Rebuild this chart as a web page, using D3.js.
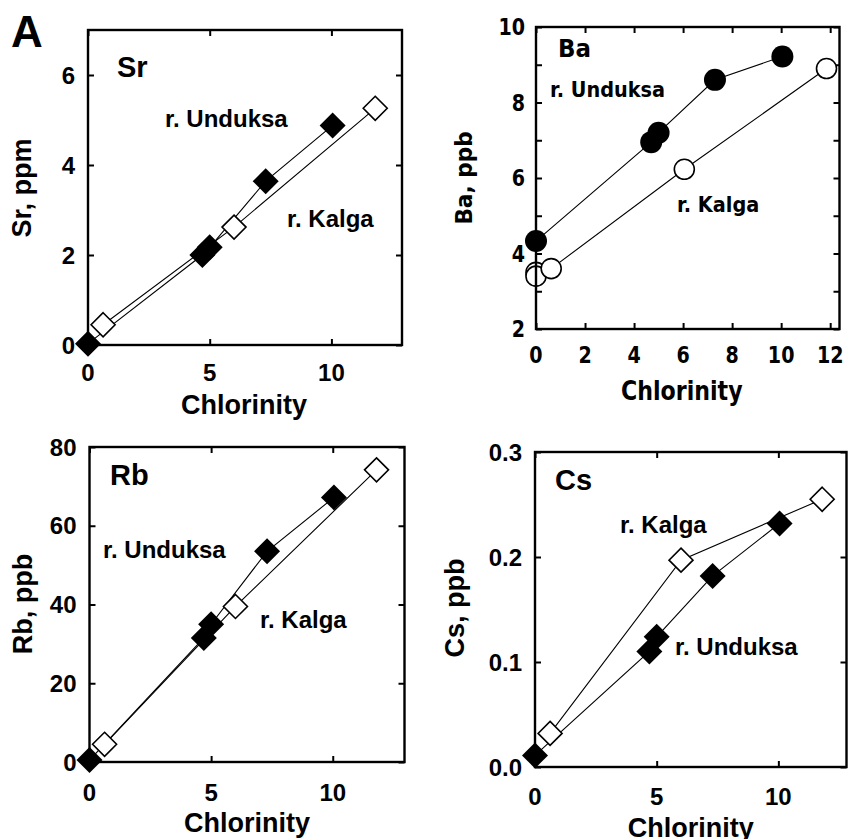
<!DOCTYPE html>
<html>
<head>
<meta charset="utf-8">
<script src="https://cdn.jsdelivr.net/npm/d3@7"></script>
<style>
  html, body { margin: 0; padding: 0; background: #fff; }
  svg { display: block; }
</style>
</head>
<body>
<svg id="chart" width="850" height="839"></svg>
<script>
// Chlorinity of the sampled waters (shared by the element panels)
const chlorUnduksa = [0, 4.7, 5.0, 7.3, 10.05];
const chlorKalga = [0.62, 6.0, 11.8];
const chlorKalgaBa = [0, 0, 0.62, 6.05, 11.85];

// Element concentrations
const srUnduksa = [0.03, 2.0, 2.17, 3.64, 4.88];
const srKalga = [0.45, 2.62, 5.26];
const baUnduksa = [4.33, 6.95, 7.2, 8.6, 9.22];
const baKalga = [3.5, 3.4, 3.6, 6.23, 8.9];
const rbUnduksa = [0.5, 31.5, 35.0, 53.5, 67.2];
const rbKalga = [4.5, 39.5, 74.2];
const csUnduksa = [0.011, 0.11, 0.124, 0.182, 0.232];
const csKalga = [0.032, 0.197, 0.255];

// Tick values
const srYTicks = [0, 2, 4, 6];
const baYTicks = [2, 4, 6, 8, 10];
const baYMinor = [3, 5, 7, 9];
const rbYTicks = [0, 20, 40, 60, 80];
const csYTicks = [0.0, 0.1, 0.2, 0.3];
const xTicks = [0, 5, 10];
const baXTicks = [0, 2, 4, 6, 8, 10, 12];

const svg = d3.select("#chart");
const ARIAL = "'Liberation Sans', Arial, Helvetica, sans-serif";
const VERDANA = "'DejaVu Sans', Verdana, sans-serif";

const diamond = h => `M0,${-h}L${h},0L0,${h}L${-h},0Z`;

// bold text anchored at (x, y), optionally narrowed horizontally and rotated
function label(parent, o) {
  const rot = o.rotate ? ` rotate(${o.rotate})` : "";
  return parent.append("text")
    .attr("transform", `translate(${o.x},${o.y})${rot} scale(${o.sx || 1},1)`)
    .attr("text-anchor", o.anchor || "start")
    .attr("dy", o.dy || null)
    .attr("font-family", o.font).attr("font-weight", "bold")
    .attr("font-size", o.size)
    .text(o.text);
}

function panel(cfg) {
  const g = svg.append("g");
  const x = d3.scaleLinear().domain(cfg.xDomain).range([cfg.left, cfg.right]);
  const y = d3.scaleLinear().domain(cfg.yDomain).range([cfg.bottom, cfg.top]);
  const tickLen = 6;
  const f = cfg.font;

  // inward ticks on all four sides
  const yAll = cfg.yTicks.concat(cfg.yMinor || []);
  const xAll = cfg.xTicks;
  g.append("g").call(d3.axisRight(y).tickValues(yAll).tickSize(tickLen).tickFormat(""))
    .attr("transform", `translate(${cfg.left},0)`);
  g.append("g").call(d3.axisLeft(y).tickValues(yAll).tickSize(tickLen).tickFormat(""))
    .attr("transform", `translate(${cfg.right},0)`);
  g.append("g").call(d3.axisTop(x).tickValues(xAll).tickSize(tickLen).tickFormat(""))
    .attr("transform", `translate(0,${cfg.bottom})`);
  g.append("g").call(d3.axisBottom(x).tickValues(xAll).tickSize(tickLen).tickFormat(""))
    .attr("transform", `translate(0,${cfg.top})`);
  g.selectAll(".domain").remove();
  g.selectAll(".tick line").attr("stroke", "#000").attr("stroke-width", 2);

  // tick labels
  cfg.yTicks.forEach(d => label(g, {
    x: cfg.left - cfg.yLabelGap, y: y(d), dy: "0.36em", anchor: "end",
    font: f, size: cfg.tickSize, sx: cfg.tickSx, text: cfg.yFormat(d)
  }));
  cfg.xTicks.forEach(d => label(g, {
    x: x(d), y: cfg.xLabelY, dy: "0.36em", anchor: "middle",
    font: f, size: cfg.tickSize, sx: cfg.tickSx, text: String(d)
  }));

  // axis titles
  label(g, {
    x: (cfg.left + cfg.right) / 2 + (cfg.xTitleDx || 0), y: cfg.xTitleY, anchor: "middle",
    font: f, size: cfg.titleSize, sx: cfg.titleSx, text: "Chlorinity"
  });
  label(g, {
    x: cfg.yTitleX, y: cfg.yTitleY, rotate: -90, anchor: "middle",
    font: f, size: cfg.yTitleSize || cfg.titleSize, sx: cfg.yTitleSx, text: cfg.yTitle
  });

  // series lines
  const line = d3.line().x(d => x(d[0])).y(d => y(d[1]));
  cfg.series.forEach(s => {
    const pts = s.x.map((v, i) => [v, s.y[i]]);
    g.append("path").attr("d", line(pts))
      .attr("fill", "none").attr("stroke", "#000").attr("stroke-width", 1.1);
  });
  // markers
  cfg.series.forEach(s => {
    const pts = s.x.map((v, i) => [v, s.y[i]]);
    const m = g.append("g").selectAll("path").data(pts).join("path")
      .attr("transform", d => `translate(${x(d[0])},${y(d[1])})`);
    if (s.shape === "diamond") {
      m.attr("d", s.filled ? diamond(13) : diamond(12));
    } else {
      m.attr("d", d3.arc()({innerRadius: 0, outerRadius: s.filled ? 11 : 10, startAngle: 0, endAngle: 2 * Math.PI}));
    }
    m.attr("fill", s.filled ? "#000" : "#fff")
      .attr("stroke", "#000").attr("stroke-width", s.filled ? 0 : 1.6);
  });

  // frame
  g.append("rect")
    .attr("x", cfg.left).attr("y", cfg.top)
    .attr("width", cfg.right - cfg.left).attr("height", cfg.bottom - cfg.top)
    .attr("fill", "none").attr("stroke", "#000").attr("stroke-width", 2.4);

  // element name and river labels
  cfg.labels.forEach(l => label(g, {
    x: l.x, y: l.y, font: f, size: l.size, sx: l.sx, text: l.text
  }));
}

// Sr
panel({
  left: 88, right: 402, top: 30, bottom: 345,
  xDomain: [0, 12.9], yDomain: [0, 7],
  xTicks: xTicks, yTicks: srYTicks, yFormat: d => String(d),
  font: ARIAL, tickSize: 24, titleSize: 27,
  yLabelGap: 13, xLabelY: 372, xTitleY: 414, xTitleDx: -1,
  yTitle: "Sr, ppm", yTitleX: 31, yTitleY: 188,
  series: [
    {x: chlorKalga, y: srKalga, shape: "diamond", filled: false},
    {x: chlorUnduksa, y: srUnduksa, shape: "diamond", filled: true}
  ],
  labels: [
    {text: "Sr", x: 117, y: 77, size: 29},
    {text: "r. Unduksa", x: 165, y: 127, size: 24},
    {text: "r. Kalga", x: 287, y: 227, size: 24}
  ]
});

// Ba
panel({
  left: 536, right: 839.5, top: 27, bottom: 329,
  xDomain: [0, 12.38], yDomain: [2, 10],
  xTicks: baXTicks, yTicks: baYTicks, yMinor: baYMinor, yFormat: d => String(d),
  font: VERDANA, tickSize: 23, tickSx: 0.83, titleSize: 27, titleSx: 0.82,
  yTitleSize: 23, yTitleSx: 0.94,
  yLabelGap: 11, xLabelY: 355, xTitleY: 400, xTitleDx: -6,
  yTitle: "Ba, ppb", yTitleX: 472, yTitleY: 178,
  series: [
    {x: chlorKalgaBa, y: baKalga, shape: "circle", filled: false},
    {x: chlorUnduksa, y: baUnduksa, shape: "circle", filled: true}
  ],
  labels: [
    {text: "Ba", x: 558, y: 57, size: 25, sx: 0.92},
    {text: "r. Unduksa", x: 550, y: 97, size: 21, sx: 0.92},
    {text: "r. Kalga", x: 677, y: 212, size: 21, sx: 0.92}
  ]
});

// Rb
panel({
  left: 89.5, right: 404.5, top: 447, bottom: 762,
  xDomain: [0, 12.95], yDomain: [0, 80],
  xTicks: xTicks, yTicks: rbYTicks, yFormat: d => String(d),
  font: ARIAL, tickSize: 24, titleSize: 27,
  yLabelGap: 13, xLabelY: 792, xTitleY: 832, xTitleDx: 0,
  yTitle: "Rb, ppb", yTitleX: 32, yTitleY: 604,
  series: [
    {x: chlorKalga, y: rbKalga, shape: "diamond", filled: false},
    {x: chlorUnduksa, y: rbUnduksa, shape: "diamond", filled: true}
  ],
  labels: [
    {text: "Rb", x: 110, y: 485, size: 29},
    {text: "r. Unduksa", x: 103, y: 558, size: 24},
    {text: "r. Kalga", x: 260, y: 628, size: 24}
  ]
});

// Cs
panel({
  left: 535, right: 846.5, top: 452, bottom: 767,
  xDomain: [0, 12.8], yDomain: [0, 0.3],
  xTicks: xTicks, yTicks: csYTicks, yFormat: d3.format(".1f"),
  font: ARIAL, tickSize: 24, titleSize: 27,
  yLabelGap: 13, xLabelY: 796, xTitleY: 837, xTitleDx: 0,
  yTitle: "Cs, ppb", yTitleX: 464, yTitleY: 608,
  series: [
    {x: chlorKalga, y: csKalga, shape: "diamond", filled: false},
    {x: chlorUnduksa, y: csUnduksa, shape: "diamond", filled: true}
  ],
  labels: [
    {text: "Cs", x: 555, y: 490, size: 29},
    {text: "r. Kalga", x: 620, y: 533, size: 24},
    {text: "r. Unduksa", x: 675, y: 655, size: 24}
  ]
});

// panel letter
label(svg, {x: 11, y: 47, font: ARIAL, size: 44, text: "A"});
</script>
</body>
</html>
